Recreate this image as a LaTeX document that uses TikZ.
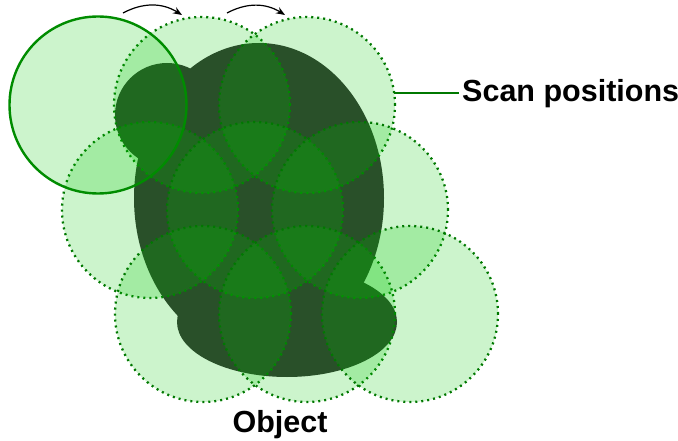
\documentclass[tikz,border=0pt]{standalone}
\usepackage{fontspec}
\setmainfont{Liberation Sans}
\usetikzlibrary{arrows.meta}
\definecolor{bodyc}{RGB}{52,50,52}
\definecolor{scanfill}{RGB}{0,200,0}
\definecolor{dotc}{RGB}{0,120,0}
\definecolor{solidc}{RGB}{0,140,0}
\tikzset{
  scanpos/.style={circle, minimum size=176pt, inner sep=0pt, outer sep=0pt,
    fill=scanfill, fill opacity=0.2, draw=dotc, draw opacity=1,
    line width=2.3pt, dash pattern=on 2pt off 4pt},
  current/.style={circle, minimum size=177pt, inner sep=0pt, outer sep=0pt,
    fill=scanfill, fill opacity=0.2, draw=solidc, draw opacity=1, line width=2.4pt},
  movearrow/.style={line width=1.2pt, -{Stealth[length=9pt,width=7pt]}, bend left=30},
  labeltext/.style={font=\bfseries\fontsize{30.5}{36}\selectfont, inner sep=3pt},
  labelline/.style={draw=dotc, line width=2pt}
}
\begin{document}
\begin{tikzpicture}[x=1pt,y=-1pt]
\useasboundingbox (0,0) rectangle (678,441);
% object body
\fill[bodyc] (259,198) ellipse [x radius=125, y radius=155];
\fill[bodyc] (167,115) circle [radius=52];
\fill[bodyc] (287,322) ellipse [x radius=110, y radius=55];
% scan positions
\node[scanpos] (s2) at (202,105) {};
\node[scanpos] (s3) at (307,105) {};
\node[scanpos] (m1) at (150,210) {};
\node[scanpos] (m2) at (255,210) {};
\node[scanpos] (m3) at (360,210) {};
\node[scanpos] (b1) at (203,314) {};
\node[scanpos] (b2) at (307,314) {};
\node[scanpos] (b3) at (410,314) {};
\node[current] (s1) at (98,105) {};
% movement arrows
\coordinate (a1s) at (123,13);
\coordinate (a1e) at (182,15);
\coordinate (a2s) at (227,13);
\coordinate (a2e) at (285,15);
\draw[movearrow] (a1s) to (a1e);
\draw[movearrow] (a2s) to (a2e);
% labels
\node[labeltext, anchor=base west] (lbl) at (459,102) {Scan positions};
\draw[labelline] (s3.8) -- (s3.8 -| lbl.west);
\node[labeltext, anchor=base] (obj) at (280,432) {Object};
\end{tikzpicture}
\end{document}
